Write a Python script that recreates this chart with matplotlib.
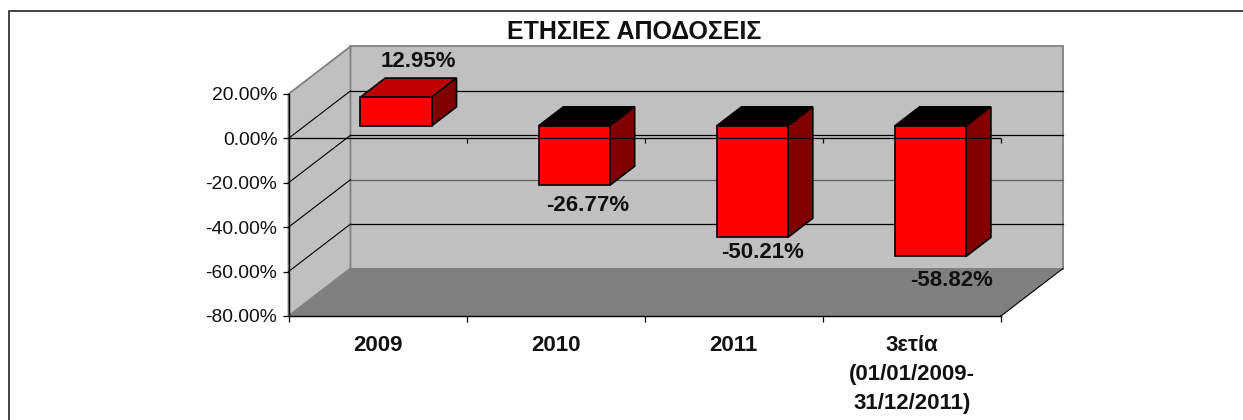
import matplotlib
matplotlib.use('Agg')
import matplotlib.pyplot as plt
from matplotlib.lines import Line2D
from matplotlib.patches import Polygon

plt.rcParams['font.family'] = ['Liberation Sans', 'DejaVu Sans']

categories = ['2009', '2010', '2011', '3ετία\n(01/01/2009-\n31/12/2011)']
returns = [12.95, -26.77, -50.21, -58.82]
value_labels = ['12.95%', '-26.77%', '-50.21%', '-58.82%']
y_ticks = [20, 0, -20, -40, -60, -80]
y_labels = ['20.00%', '0.00%', '-20.00%', '-40.00%', '-60.00%', '-80.00%']
title = 'ΕΤΗΣΙΕΣ ΑΠΟΔΟΣΕΙΣ'

# depth of the fake 3d box, in data units
DX = 62 / 178.25
DY = 47.5 / 2.22
BAR_W = 0.4
BAR_SHIFT = 0.012
BAR_D0 = 0.265
BAR_D1 = 0.665
# label shift from the end of each bar, in pixels
label_shift = [(22, 36), (13, -20), (10, -15), (21, -24)]


def proj(x, y, d=0.0):
    return (x + d * DX, y + d * DY)


W, H = 1243, 420
fig = plt.figure(figsize=(W / 100, H / 100), dpi=100)
ax = fig.add_axes([288.5 / W, 1 - 316 / H, 712.5 / W, 222 / H])
ax.set_xlim(0, 4)
ax.set_ylim(-80, 20)
ax.patch.set_visible(False)

# chart frame, open on the right and the bottom
fig.add_artist(Line2D([8.5 / W, 8.5 / W, 1], [0, 1 - 10.5 / H, 1 - 10.5 / H], transform=fig.transFigure,
                      color='#222222', lw=1.2))

# walls and floor
wall_kw = dict(clip_on=False, ec='#808080', lw=1.3, zorder=1)
ax.add_patch(Polygon([proj(0, 20, 1), proj(4, 20, 1), proj(4, -80, 1), proj(0, -80, 1)], fc='#C0C0C0', **wall_kw))
ax.add_patch(Polygon([proj(0, 20), proj(0, 20, 1), proj(0, -80, 1), proj(0, -80)], fc='#C0C0C0', **wall_kw))
ax.add_patch(Polygon([proj(0, -80), proj(0, -80, 1), proj(4, -80, 1), proj(4, -80)], fc='#808080',
                     clip_on=False, ec='none', zorder=1.1))
ax.plot(*zip(proj(4, -80), proj(4, -80, 1)), color='black', lw=0.8, clip_on=False, zorder=1.2)

# grid on back wall and side wall
for v in y_ticks[1:-1]:
    c = '#606060' if v == -40 else 'black'
    ax.plot(*zip(proj(0, v, 1), proj(4, v, 1)), color=c, lw=0.9, clip_on=False, zorder=1.5)
    ax.plot(*zip(proj(0, v), proj(0, v, 1)), color='black', lw=0.8, clip_on=False, zorder=1.5)

# ticks on the zero axis
ax.vlines(range(1, 5), -2.2, 0, color='black', lw=0.9, clip_on=False, zorder=1.6)

for i, v in enumerate(returns):
    x0 = i + 0.5 + BAR_SHIFT - BAR_W / 2
    x1 = i + 0.5 + BAR_SHIFT + BAR_W / 2
    top = max(v, 0)
    low = min(v, 0)
    kw = dict(ec='black', lw=1.2, joinstyle='miter', clip_on=False, zorder=3)
    ax.add_patch(Polygon([proj(x0, top, BAR_D0), proj(x0, top, BAR_D1), proj(x1, top, BAR_D1), proj(x1, top, BAR_D0)],
                         fc='#C00000' if v > 0 else 'black', **kw))
    ax.add_patch(Polygon([proj(x1, top, BAR_D0), proj(x1, top, BAR_D1), proj(x1, low, BAR_D1), proj(x1, low, BAR_D0)],
                         fc='#800000', **kw))
    ax.add_patch(Polygon([proj(x0, top, BAR_D0), proj(x1, top, BAR_D0), proj(x1, low, BAR_D0), proj(x0, low, BAR_D0)],
                         fc='#FF0000', **kw))
    px, py = proj(i + 0.5 + BAR_SHIFT, v, BAR_D0)
    ax.annotate(value_labels[i], (px, py), xytext=(label_shift[i][0] * 0.72, label_shift[i][1] * 0.72),
                textcoords='offset points', ha='center', va='center', fontsize=16, fontweight='bold',
                color='#111111', zorder=5, annotation_clip=False)

# the zero axis runs over the bars
ax.plot([0, 4], [0, 0], color='black', lw=0.9, zorder=4)

for side in ['top', 'right']:
    ax.spines[side].set_visible(False)
for side in ['left', 'bottom']:
    ax.spines[side].set_linewidth(1.0)
    ax.spines[side].set_zorder(2)

ax.set_yticks(y_ticks)
ax.set_yticklabels(y_labels, fontsize=13.9, color='#111111')
ax.tick_params(axis='y', length=4, width=0.9, pad=4)
ax.set_xticks(range(5))
ax.set_xticklabels([])
ax.tick_params(axis='x', which='major', length=4, width=0.9)
ax.set_xticks([i + 0.5 for i in range(4)], minor=True)
ax.set_xticklabels(categories, minor=True, fontsize=16, fontweight='bold', color='#111111', linespacing=1.5)
ax.tick_params(axis='x', which='minor', length=0, pad=13.5)

fig.text(634 / W, 1 - 32 / H, title, ha='center', va='center', fontsize=18, fontweight='bold', color='#111111')

fig.savefig('out.png', dpi=100)
